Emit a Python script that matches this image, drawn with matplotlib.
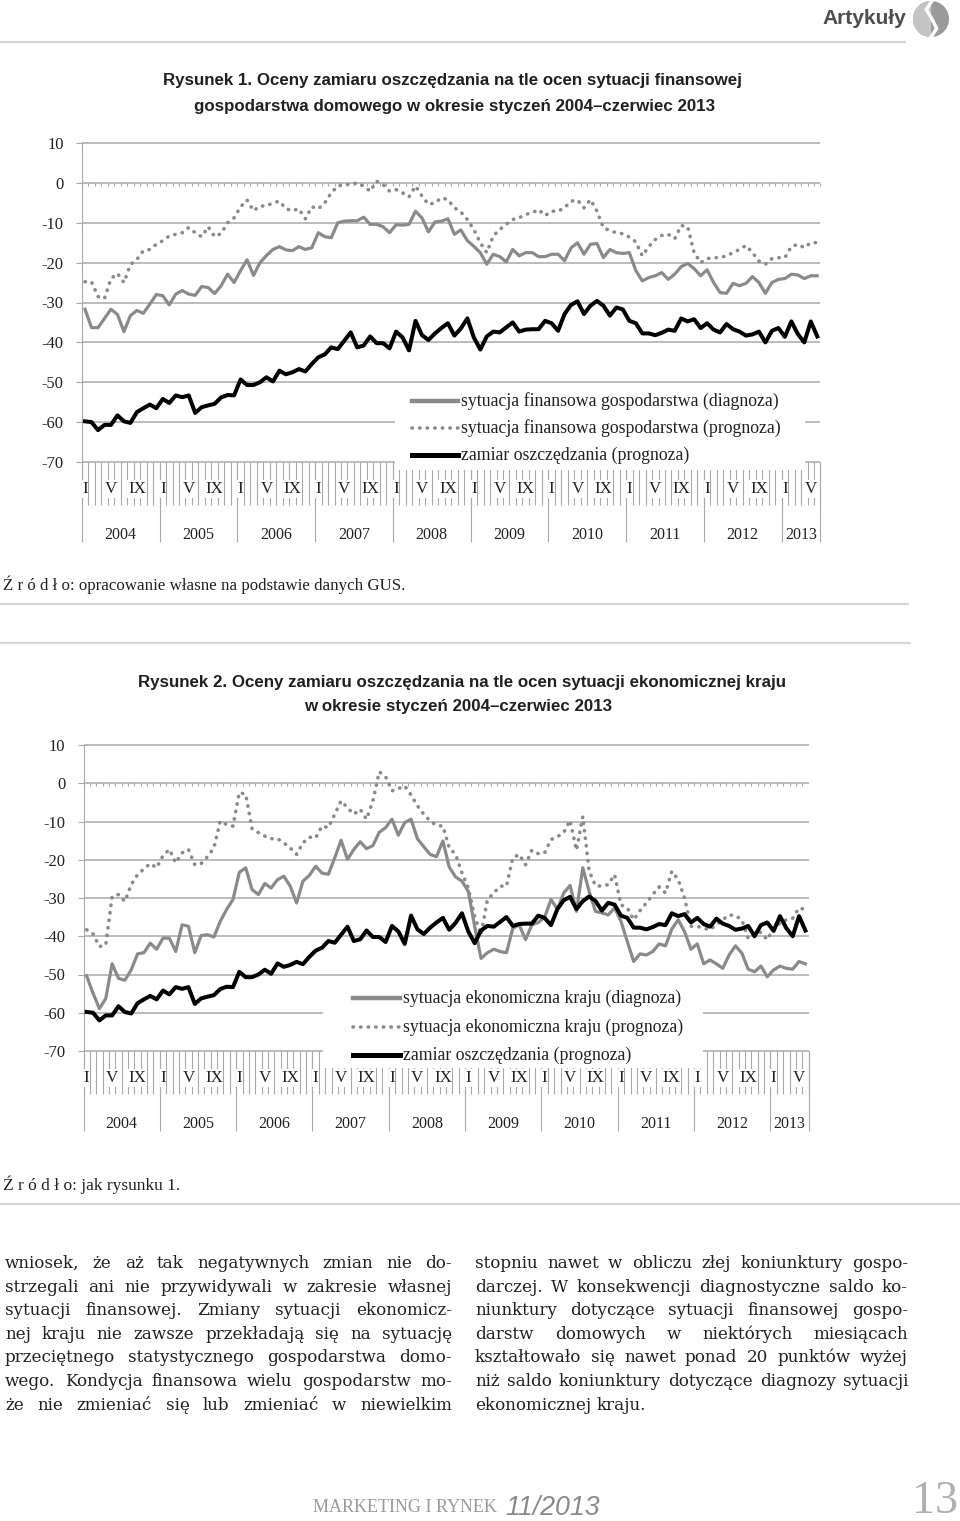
import matplotlib
matplotlib.use('Agg')
import matplotlib.pyplot as plt
from matplotlib import patches, font_manager
from matplotlib.lines import Line2D

plt.rcParams['axes.unicode_minus'] = False

W, H = 960, 1521

# --- data (monthly, I 2004 - VI 2013) ---
zamiar = [-59.8, -60, -62, -60.7, -60.7, -58.3, -59.8, -60.2, -57.5, -56.5,
          -55.6, -56.5, -54.2, -55.2, -53.3, -53.75, -53.3, -57.7, -56.25, -55.8,
          -55.4, -53.8, -53.2, -53.3, -49.3, -50.7, -50.7, -50, -48.75, -49.8,
          -47.1, -48, -47.5, -46.7, -47.3, -45.4, -43.75, -43, -41.25, -41.7,
          -39.6, -37.5, -41.25, -40.8, -38.5, -40.2, -40.2, -41.5, -37.3, -38.75,
          -42, -34.6, -38.2, -39.4, -37.75, -36.4, -35.2, -38.3, -36.5, -34,
          -38.75, -41.8, -38.5, -37.3, -37.5, -36.25, -35, -37.3, -36.8, -36.7,
          -36.7, -34.6, -35.2, -37.1, -32.9, -30.6, -29.7, -32.9, -30.8, -29.6,
          -30.8, -33.3, -31.25, -31.75, -34.6, -35.2, -37.75, -37.75, -38.2, -37.6,
          -36.8, -37.1, -34, -34.75, -34.2, -36.4, -35.2, -36.8, -37.5, -35.4,
          -36.7, -37.3, -38.3, -38, -37.3, -40, -37.1, -36.4, -38.6, -34.75,
          -37.9, -40, -34.75, -38.5]

fin_diag = [-31.7, -36.3, -36.3, -34, -31.7, -33, -37.3, -33.3, -32, -32.7,
            -30.4, -28, -28.3, -30.6, -27.9, -27, -27.9, -28.2, -26, -26.25,
            -27.75, -25.8, -22.9, -25, -22, -19.3, -23.2, -20, -18.2, -16.7,
            -16, -16.8, -17, -16, -16.7, -16.25, -12.5, -13.5, -13.75, -10,
            -9.6, -9.5, -9.5, -8.6, -10.4, -10.4, -11, -12.5, -10.5, -10.6,
            -10.4, -7.1, -8.8, -12.3, -9.8, -9.6, -9, -12.9, -11.8, -14.5,
            -15.9, -17.5, -20.4, -17.9, -18.5, -19.8, -16.7, -18.3, -17.5, -17.5,
            -18.5, -18.5, -17.9, -17.9, -19.5, -16.3, -15, -17.9, -15.4, -15.2,
            -18.75, -16.7, -17.5, -17.7, -17.5, -22, -24.6, -23.75, -23.3, -22.5,
            -24.2, -22.9, -21, -20.2, -21.5, -23.3, -21.8, -25, -27.5, -27.7,
            -25.2, -25.8, -25.2, -23.5, -25, -27.7, -25, -24.2, -24, -22.9,
            -23.1, -24, -23.3, -23.3]

fin_prog = [-24.8, -24.8, -28.5, -29, -24, -22.7, -25, -20.5, -19.2, -17,
            -16.7, -15.4, -14.5, -13.3, -12.9, -12.5, -11.2, -12.5, -13.5, -11,
            -13.5, -12.7, -10, -8.75, -6, -4.3, -7, -5.8, -5.8, -5,
            -4.6, -6.5, -7, -6.5, -9, -6, -6.5, -5, -2.5, -0.8,
            -0.4, -0.4, 0, -0.8, -2.1, 0.4, -0.4, -2.1, -1.7, -2.5,
            -3.5, -0.8, -3.3, -5.4, -5, -3.75, -4.2, -6.25, -7.3, -9.2,
            -11.7, -15, -17.5, -13.3, -11.7, -10.4, -9.2, -8.75, -7.9, -7.5,
            -6.7, -8.2, -7.1, -7.1, -6.25, -4.6, -4.3, -6.25, -4.2, -7.1,
            -11.25, -12, -12.5, -12.75, -13.6, -14.8, -18.3, -16, -14.2, -13.2,
            -12.9, -14, -10.7, -11, -17.5, -20, -19, -18.75, -18.75, -18.3,
            -17.5, -16.7, -15.7, -17.5, -19.6, -20.4, -19, -18.75, -18.75, -16,
            -15.4, -16.25, -15, -15]

eko_diag = [-50.4, -54.9, -58.9, -56.3, -47.2, -51, -51.5, -48.8, -44.6, -44.3,
            -41.8, -43.4, -40.5, -40.5, -44, -37, -37.4, -44.3, -39.8, -39.6,
            -40.2, -36.1, -33, -30.4, -23.3, -22.1, -27.8, -29.1, -26.2, -27.4,
            -25.2, -24.3, -26.9, -31.3, -25.6, -24.1, -21.7, -23.5, -23.8, -19.5,
            -14.9, -19.9, -17.3, -15.3, -17.1, -16.3, -12.8, -11.6, -9.4, -13.6,
            -10.3, -9.4, -14.5, -16.6, -18.6, -19.2, -15.1, -21.9, -24.5, -25.6,
            -28.3, -37.4, -45.8, -44.3, -43.4, -44, -44.3, -37.9, -37, -40.9,
            -37, -36.4, -35, -30.4, -32.9, -28.7, -26.7, -33.5, -22.1, -28.3,
            -33.5, -33.9, -34.4, -32.6, -36.1, -41.4, -46.6, -44.6, -44.9, -44,
            -42, -42.5, -38.1, -35.7, -38.8, -43.4, -42, -47.2, -46.2, -47.2,
            -48.4, -44.9, -42.5, -44.4, -48.6, -49.3, -47.8, -50.6, -48.8, -47.8,
            -48.4, -48.6, -46.6, -47.2]

eko_prog = [-38.3, -39.4, -42.7, -42.3, -29.6, -29.1, -30.9, -26.5, -23.9, -22.4,
            -21, -22.1, -18.9, -17.3, -20.8, -18.2, -17.3, -21.3, -21, -19.2,
            -16.9, -9.9, -10.8, -11.2, -2.4, -2.9, -11.9, -12.9, -13.8, -14.5,
            -14.5, -15.6, -16.9, -18.6, -15.6, -14.1, -14.3, -11.2, -11.6, -8.1,
            -4.6, -6.4, -8.1, -6.8, -9.4, -4.6, 3, 1.7, -2, -1.4,
            -0.7, -3.1, -5.9, -8.1, -9.9, -11, -11.2, -16.9, -18.6, -23.4,
            -27.4, -34.8, -39.6, -30.4, -28.7, -26.9, -26.9, -19.5, -18.6, -21.3,
            -17.5, -18.4, -18.2, -14.7, -14, -12.9, -9.7, -17.5, -8.7, -23,
            -26.8, -26.9, -26.5, -23.9, -31.8, -32.6, -35.7, -33.3, -31.3, -29.1,
            -27.1, -28.7, -23, -25.2, -30, -37.4, -37.4, -37.9, -38.3, -37,
            -35.7, -34.4, -34.6, -35.7, -40.5, -39, -39, -40.9, -37.9, -36.6,
            -35.7, -35.3, -32.6, -33]

month_labels = ['I', 'V', 'IX']
years = [2004, 2005, 2006, 2007, 2008, 2009, 2010, 2011, 2012, 2013]

leg1 = ['sytuacja finansowa gospodarstwa (diagnoza)',
        'sytuacja finansowa gospodarstwa (prognoza)',
        'zamiar oszczędzania (prognoza)']
leg2 = ['sytuacja ekonomiczna kraju (diagnoza)',
        'sytuacja ekonomiczna kraju (prognoza)',
        'zamiar oszczędzania (prognoza)']

left_col = ['wniosek, że aż tak negatywnych zmian nie do-',
            'strzegali ani nie przywidywali w zakresie własnej',
            'sytuacji finansowej. Zmiany sytuacji ekonomicz-',
            'nej kraju nie zawsze przekładają się na sytuację',
            'przeciętnego statystycznego gospodarstwa domo-',
            'wego. Kondycja finansowa wielu gospodarstw mo-',
            'że nie zmieniać się lub zmieniać w niewielkim']
right_col = ['stopniu nawet w obliczu złej koniunktury gospo-',
             'darczej. W konsekwencji diagnostyczne saldo ko-',
             'niunktury dotyczące sytuacji finansowej gospo-',
             'darstw domowych w niektórych miesiącach',
             'kształtowało się nawet ponad 20 punktów wyżej',
             'niż saldo koniunktury dotyczące diagnozy sytuacji',
             'ekonomicznej kraju.']

# --- fonts and colours ---
names = {f.name for f in font_manager.fontManager.ttflist}
NARROW = 'Liberation Sans Narrow' if 'Liberation Sans Narrow' in names else 'Liberation Sans'
SERIF = 'Liberation Serif'
BODY = 'DejaVu Serif'
GRID = '#a8a8a8'
SER = '#8a8a8a'
TXT = '#231f20'
SEP = '#d6d6d6'

fig = plt.figure(figsize=(W / 100, H / 100), dpi=100)
renderer = fig.canvas.get_renderer()


def fx(x):
    return x / W


def fy(y):
    return 1 - y / H


def pt(px):
    return px * 0.72


def sep(y, x0, x1):
    fig.add_artist(Line2D([fx(x0), fx(x1)], [fy(y), fy(y)], color=SEP, lw=1.6))


def fit_text(x, y, s, width, size_px, ha='left', **kw):
    # scale the font so the text spans the width measured on the page
    t = fig.text(fx(x), fy(y), s, fontsize=pt(size_px), va='center', ha=ha, **kw)
    w = t.get_window_extent(renderer).width
    t.set_fontsize(pt(size_px) * width / w)
    return t


def chart(left, right, top, bottom, diag, prog, labels, rect, hx0, hx1, rows):
    n = len(zamiar)
    ax = fig.add_axes([fx(left), fy(bottom), (right - left) / W, (bottom - top) / H])
    ax.set_xlim(-0.5, n - 0.5)
    ax.set_ylim(-70, 10)
    upp = 80 / (bottom - top)
    for s in ['top', 'right', 'bottom']:
        ax.spines[s].set_visible(False)
    ax.spines['left'].set_color(GRID)
    ax.set_xticks([])
    ax.set_yticks(range(-70, 11, 10))
    ax.tick_params(axis='y', length=4, color=GRID, pad=9, labelsize=pt(16.5), labelcolor=TXT)
    for t in ax.get_yticklabels():
        t.set_fontfamily(SERIF)
    ax.hlines(range(-70, 11, 10), -0.5, n - 0.5, color=GRID, lw=1.1, zorder=1, clip_on=False)

    # category axis at 0 with month ticks
    bounds = [b - 0.5 for b in range(n + 1)]
    ax.vlines(bounds, -3 * upp, 0, color=GRID, lw=0.8, zorder=1)

    # category labels below the plot
    ax.vlines(bounds, -70 - 43 * upp, -70, color=GRID, lw=0.8, zorder=1, clip_on=False)
    ax.vlines(bounds[::12] + [bounds[-1]], -70 - 80 * upp, -70, color=GRID, lw=0.8,
              zorder=1, clip_on=False)
    for m in range(n):
        if m % 12 in (0, 4, 8):
            ax.text(m, -70 - 27 * upp, month_labels[(m % 12) // 4], ha='center', va='center',
                    family=SERIF, fontsize=pt(17), color=TXT, clip_on=False, zorder=2,
                    bbox=dict(fc='white', ec='none', pad=0.4))
    for i, yr in enumerate(years):
        a = i * 12 - 0.5
        b = min(a + 12, n - 0.5)
        ax.text((a + b) / 2, -70 - 73 * upp, str(yr), ha='center', va='center',
                family=SERIF, fontsize=pt(16), color=TXT, clip_on=False)

    x = list(range(n))
    ax.plot(x, diag, color=SER, lw=2.3, zorder=3, solid_joinstyle='round')
    ax.plot(x, prog, color=SER, lw=2.6, ls=(0, (0.1, 2.0)), dash_capstyle='round', zorder=3)
    ax.plot(x, zamiar, color='black', lw=2.9, zorder=3, solid_joinstyle='round')

    # legend block on white background
    rx0, ry0, rx1, ry1 = rect
    fig.add_artist(patches.Rectangle((fx(rx0), fy(ry1)), (rx1 - rx0) / W, (ry1 - ry0) / H,
                                     transform=fig.transFigure, fc='white', ec='none', zorder=1))
    styles = [dict(color=SER, lw=3.2), dict(color=SER, lw=2.6, ls=(0, (0.1, 2.0)),
                                             dash_capstyle='round'),
              dict(color='black', lw=3.6)]
    for lab, st, ry in zip(labels, styles, rows):
        fig.add_artist(Line2D([fx(hx0), fx(hx1)], [fy(ry), fy(ry)], zorder=2, **st))
        fig.text(fx(hx1 + 3), fy(ry), lab, family=SERIF, fontsize=pt(17.8), color=TXT,
                 va='center', ha='left')


def justify(lines, x0, x1, y0, step, size):
    for k, line in enumerate(lines):
        y = y0 + k * step
        words = line.split()
        arts = [fig.text(0, fy(y), w, family=BODY, fontsize=size, color=TXT, va='baseline')
                for w in words]
        widths = [a.get_window_extent(renderer).width for a in arts]
        last = (k == len(lines) - 1 and not line.endswith('-') and len(line) < 30)
        gap = 5.5 if last else (x1 - x0 - sum(widths)) / (len(words) - 1)
        pos = x0
        for a, w in zip(arts, widths):
            a.set_x(fx(pos))
            pos += w + gap


# --- header ---
fig.text(fx(906), fy(18), 'Artykuły', family=NARROW, weight='bold', fontsize=pt(21),
         color='#4d4d4d', ha='right', va='center')
lax = fig.add_axes([fx(911), fy(38), 40 / W, 38 / H])
lax.set_xlim(-1, 1)
lax.set_ylim(-1, 1)
lax.set_aspect('equal')
lax.axis('off')
lax.add_patch(patches.Circle((0, 0), 0.95, fc='#9a9a9a', ec='none'))
lax.add_patch(patches.Wedge((0, 0), 0.95, 90, 270, fc='#c4c4c4', ec='none'))
lax.plot([0.05, -0.25, 0.05, 0.3, 0.0], [0.95, 0.5, 0.0, -0.5, -0.95], color='white', lw=2.5)
sep(42, 0, 905)

# --- figure 1 ---
TSIZE = 16.9
fig.text(fx(452), fy(80), 'Rysunek 1. Oceny zamiaru oszczędzania na tle ocen sytuacji finansowej',
         family=NARROW, weight='bold', fontsize=pt(TSIZE), color=TXT, ha='center', va='center')
fig.text(fx(455), fy(106), 'gospodarstwa domowego w okresie styczeń 2004–czerwiec 2013',
         family=NARROW, weight='bold', fontsize=pt(TSIZE), color=TXT, ha='center', va='center')
chart(81.8, 820.5, 143, 462, fin_diag, fin_prog, leg1, (395, 383, 805, 470), 412, 458,
      [401, 428, 455])
fit_text(3, 585, 'Ź r ó d ł o: opracowanie własne na podstawie danych GUS.', 399, 16,
         family=SERIF, color=TXT)
sep(604, 0, 908)
sep(643, 0, 910)

# --- figure 2 ---
fig.text(fx(462), fy(683), 'Rysunek 2. Oceny zamiaru oszczędzania na tle ocen sytuacji ekonomicznej kraju',
         family=NARROW, weight='bold', fontsize=pt(TSIZE), color=TXT, ha='center', va='center')
fig.text(fx(458), fy(706), 'w okresie styczeń 2004–czerwiec 2013',
         family=NARROW, weight='bold', fontsize=pt(TSIZE), color=TXT, ha='center', va='center')
chart(83.5, 808.6, 745, 1051, eko_diag, eko_prog, leg2, (323, 982, 703, 1068), 353, 400,
      [998, 1027, 1055])
fit_text(3, 1185, 'Ź r ó d ł o: jak rysunku 1.', 177, 16, family=SERIF, color=TXT)
sep(1204, 0, 960)

# --- body text ---
justify(left_col, 5, 452, 1268, 23.6, pt(16.8))
justify(right_col, 475, 908, 1268, 23.6, pt(16.8))

# --- footer ---
fit_text(313, 1508, 'MARKETING I RYNEK', 184, 20, family=SERIF, color='#9a9a9a')
fit_text(505, 1508, '11/2013', 95, 22, family='Liberation Sans', style='italic',
         color='#8a8a8a')
fig.text(fx(958), fy(1502), '13', family=SERIF, fontsize=pt(46), color='#b0b0b0',
         va='center', ha='right')

fig.savefig('out.png', dpi=100)
